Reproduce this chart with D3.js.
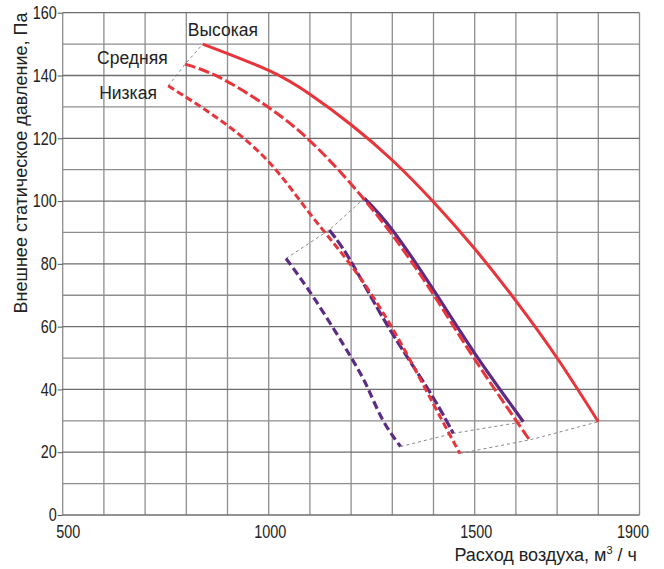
<!DOCTYPE html>
<html><head><meta charset="utf-8">
<script src="https://cdn.jsdelivr.net/npm/d3@7"></script>
<style>
body{margin:0;background:#fff;}
svg{display:block;}
.num{font-family:"Liberation Sans",Arial,sans-serif;font-size:18px;fill:#222;}
.lbl{font-family:"Liberation Sans",Arial,sans-serif;font-size:17.5px;fill:#222;}
</style></head>
<body>
<svg id="c" width="664" height="569"></svg>
<script>
// ---- data ----
const xTicks = [500, 1000, 1500, 1900];
const yTicks = [0, 20, 40, 60, 80, 100, 120, 140, 160];

const highX = [840, 1000, 1100, 1200, 1300, 1400, 1500, 1600, 1700, 1800];
const highY = [150, 141.6, 134, 124.3, 113, 99.7, 84.8, 68.2, 50, 29.7];

const midX = [797, 882, 1000, 1100, 1200, 1300, 1400, 1500, 1633];
const midY = [143.6, 139.3, 129.8, 119.2, 105.4, 89.2, 70.2, 49.6, 23.9];

const lowX = [756, 882, 1000, 1100, 1200, 1300, 1400, 1464];
const lowY = [136.7, 125.8, 112.5, 96, 79.5, 59.5, 35.3, 19.6];

const purpleSolidX = [1232, 1300, 1400, 1500, 1618];
const purpleSolidY = [100.9, 90.8, 71.7, 51.5, 29.7];

const purpleLongX = [1147, 1200, 1290, 1387, 1448];
const purpleLongY = [90.8, 80.7, 60, 40, 26];

const purpleShortX = [1042, 1113, 1200, 1242, 1278, 1320];
const purpleShortY = [81.7, 68.5, 50.2, 40, 30, 21.8];

const curveNames = ["Высокая", "Средняя", "Низкая"];
const xTitle = "Расход воздуха, м";
const yTitle = "Внешнее статическое давление, Па";

// ---- layout ----
const svg = d3.select("#c");
const x = d3.scaleLinear().domain([500, 1900]).range([62.7, 639.5]);
const y = d3.scaleLinear().domain([0, 160]).range([515, 12.7]);

const red = "#e8343a", purple = "#5b2c83";

// grid
const g = svg.append("g");
g.selectAll(".vg").data(d3.range(500, 1901, 100)).join("line")
  .attr("x1", d => x(d)).attr("x2", d => x(d))
  .attr("y1", y(0)).attr("y2", y(160))
  .attr("stroke", "#8e8e8e").attr("stroke-width", 1.3);
g.selectAll(".hg").data(d3.range(0, 161, 10)).join("line")
  .attr("x1", x(500)).attr("x2", x(1900))
  .attr("y1", d => y(d)).attr("y2", d => y(d))
  .attr("stroke", d => d % 20 === 0 ? "#6e6e6e" : "#8e8e8e").attr("stroke-width", 1.3);

const sx = 0.8;
// y axis
const yAxis = d3.axisLeft(y).tickValues(yTicks).tickSize(5).tickPadding(1).tickFormat(d3.format("d"));
const ya = svg.append("g").attr("transform", `translate(${x(500)},0)`).call(yAxis);
ya.select(".domain").remove();
ya.selectAll("line").attr("stroke", "#555");
ya.selectAll("text").attr("class", "num").attr("font-family", null).attr("font-size", null)
  .attr("x", -6 / sx).attr("transform", `scale(${sx},1)`);

// x axis
const xAxis = d3.axisBottom(x).tickValues(xTicks).tickSize(0).tickPadding(10).tickFormat(d3.format("d"));
const xa = svg.append("g").attr("transform", `translate(0,${y(0)})`).call(xAxis);
xa.select(".domain").remove();
xa.selectAll("text").attr("class", "num").attr("font-family", null).attr("font-size", null)
  .attr("x", (d, i) => (i === 0 ? 5 : (i === xTicks.length - 1 ? -7 : 1)) / sx)
  .attr("transform", `scale(${sx},1)`);

// curves
const line = d3.line().x(d => x(d[0])).y(d => y(d[1])).curve(d3.curveNatural);
const zip = (a, b) => a.map((v, i) => [v, b[i]]);

const series = [
  {pts: zip(purpleShortX, purpleShortY), color: purple, dash: "8,4", w: 3.2},
  {pts: zip(purpleLongX, purpleLongY), color: purple, dash: "10,3", w: 3.2},
  {pts: zip(purpleSolidX, purpleSolidY), color: purple, dash: null, w: 3.2},
  {pts: zip(highX, highY), color: red, dash: null, w: 3},
  {pts: zip(midX, midY), color: red, dash: "11,3.5", w: 3},
  {pts: zip(lowX, lowY), color: red, dash: "7,3.5", w: 3}
];

// connectors (thin grey dashed) through curve ends
const first = s => s.pts[0], last = s => s.pts[s.pts.length - 1];
const conn = [
  [first(series[5]), first(series[4]), first(series[3])],
  [first(series[0]), first(series[1]), first(series[2])],
  [last(series[0]), last(series[1]), last(series[2])],
  [last(series[5]), last(series[4]), last(series[3])]
];
const straight = d3.line().x(d => x(d[0])).y(d => y(d[1]));
svg.append("g").selectAll("path").data(conn).join("path")
  .attr("d", straight).attr("fill", "none")
  .attr("stroke", "#7a7a7a").attr("stroke-width", 0.9).attr("stroke-dasharray", "3,3");

svg.append("g").selectAll("path").data(series).join("path")
  .attr("d", d => line(d.pts)).attr("fill", "none")
  .attr("stroke", d => d.color).attr("stroke-width", d => d.w)
  .attr("stroke-dasharray", d => d.dash);

// curve labels
const labelAnchors = [first(series[3]), first(series[4]), first(series[5])];
const labelOffsets = [[-15, -8], [-88, 0], [-69, 13]];
svg.append("g").selectAll("text").data(curveNames).join("text")
  .attr("class", "lbl")
  .attr("x", (d, i) => x(labelAnchors[i][0]) + labelOffsets[i][0])
  .attr("y", (d, i) => y(labelAnchors[i][1]) + labelOffsets[i][1])
  .text(d => d);

// axis titles
const xt = svg.append("text").attr("class", "lbl").style("font-size", "18px")
  .attr("text-anchor", "end").attr("x", 637).attr("y", 561);
xt.append("tspan").text(xTitle);
xt.append("tspan").style("font-size", "11px").attr("dy", -7).text("3");
xt.append("tspan").attr("dy", 7).text(" / ч");

svg.append("text").attr("class", "lbl").style("font-size", "18px")
  .attr("text-anchor", "middle")
  .attr("transform", "translate(27,163) rotate(-90)")
  .text(yTitle);
</script>
</body></html>
